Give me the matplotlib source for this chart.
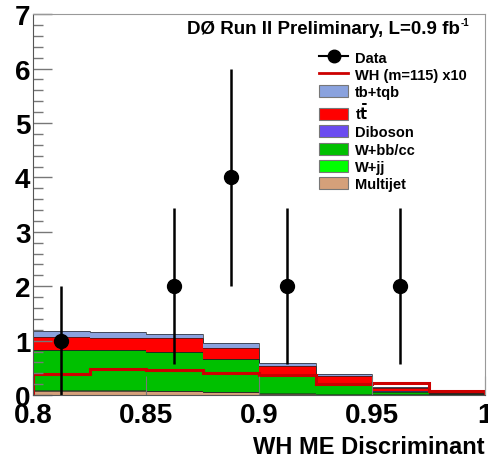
import numpy as np
import matplotlib.pyplot as plt
from matplotlib.patches import Patch
from matplotlib.lines import Line2D

plt.rcParams['font.family'] = ['Liberation Sans', 'DejaVu Sans']
plt.rcParams['font.weight'] = 'bold'

# bin edges of the discriminant
edges = np.linspace(0.8, 1.0, 9)

# stacked backgrounds, bottom to top (events per bin)
multijet = [0.08, 0.08, 0.07, 0.05, 0.02, 0.01, 0.01, 0.005]
wjj = [0.01, 0.01, 0.01, 0.01, 0.01, 0.005, 0.005, 0.002]
wbb = [0.73, 0.73, 0.71, 0.60, 0.33, 0.18, 0.05, 0.013]
diboson = [0.005, 0.005, 0.005, 0.005, 0.005, 0.003, 0.002, 0.001]
ttbar = [0.235, 0.225, 0.245, 0.195, 0.175, 0.16, 0.07, 0.01]
tb = [0.11, 0.10, 0.09, 0.09, 0.05, 0.02, 0.005, 0.002]

wh = [0.39, 0.48, 0.46, 0.41, 0.37, 0.20, 0.23, 0.08]

data_x = [0.8125, 0.8625, 0.8875, 0.9125, 0.9625]
data_y = [1, 2, 4, 2, 2]
err_lo = [1.0, 1.42, 2.0, 1.42, 1.42]
err_hi = [1.0, 1.43, 2.0, 1.43, 1.43]

comps = [("Multijet", multijet, "#d4a07a"),
         ("W+jj", wjj, "#00ff00"),
         ("W+bb/cc", wbb, "#00c000"),
         ("Diboson", diboson, "#6a4bf0"),
         ("t$\\bar{\\mathbf{t}}$", ttbar, "#ff0000"),
         ("tb+tqb", tb, "#8aa2de")]

fig = plt.figure(figsize=(4.88, 4.6), dpi=100)
ax = fig.add_axes([0.068, 0.139, 0.926, 0.828])

bottom = np.zeros(8)
for name, vals, col in comps:
    vals = np.array(vals)
    ax.bar(edges[:-1], vals, width=0.025, bottom=bottom, align='edge',
           color=col, edgecolor='none', linewidth=0)
    bottom = bottom + vals
    ax.stairs(bottom, edges, color='#222222', linewidth=0.7, alpha=0.7)

ax.stairs(wh, edges, color='#cc0000', linewidth=2.2)

ax.errorbar(data_x, data_y, yerr=[err_lo, err_hi], fmt='o', color='black',
            markersize=10, elinewidth=1.8, capsize=0)

ax.set_xlim(0.8, 1.0)
ax.set_ylim(0, 7)
ax.set_xticks([0.8, 0.85, 0.9, 0.95, 1.0])
ax.set_xticklabels(["0.8", "0.85", "0.9", "0.95", "1"])
ax.set_yticks(range(8))
ax.set_yticks(np.arange(0, 7.01, 0.2), minor=True)
ax.tick_params(axis='y', direction='in', length=14, width=1, labelsize=20,
               pad=2, color='#777777')
ax.tick_params(axis='y', which='minor', direction='in', length=7, width=1,
               color='#777777')
ax.tick_params(axis='x', direction='in', length=14, labelsize=20, pad=5,
               color='#777777')
for lab in ax.get_xticklabels() + ax.get_yticklabels():
    lab.set_fontweight('bold')
for s in ['top', 'right']:
    ax.spines[s].set_color('#999999')
for s in ['left', 'bottom']:
    ax.spines[s].set_color('#555555')

ax.set_xlabel("WH ME Discriminant", fontsize=17, fontweight='bold',
              loc='right', labelpad=5)

fig.text(0.943, 0.936, "DØ Run II Preliminary, L=0.9 fb",
         ha='right', va='center', fontsize=13.5, fontweight='bold')
fig.text(0.944, 0.949, "-1", ha='left', va='center', fontsize=7,
         fontweight='bold')

handles = [Line2D([], [], color='black', marker='o', markersize=9, linewidth=1.5),
           Line2D([], [], color='#cc0000', linewidth=2)]
labels = ["Data", "WH (m=115) x10"]
for name, vals, col in comps[::-1]:
    handles.append(Patch(facecolor=col, edgecolor='#777777', linewidth=0.8))
    labels.append(name)
leg = ax.legend(handles, labels, loc='upper left',
                bbox_to_anchor=(0.639, 0.904), bbox_transform=fig.transFigure,
                frameon=False, fontsize=10.5, handlelength=2.0, handleheight=0.9,
                labelspacing=0.22, handletextpad=0.45, borderpad=0)
for t in leg.get_texts():
    t.set_fontweight('bold')

fig.savefig("out.png", dpi=100)
